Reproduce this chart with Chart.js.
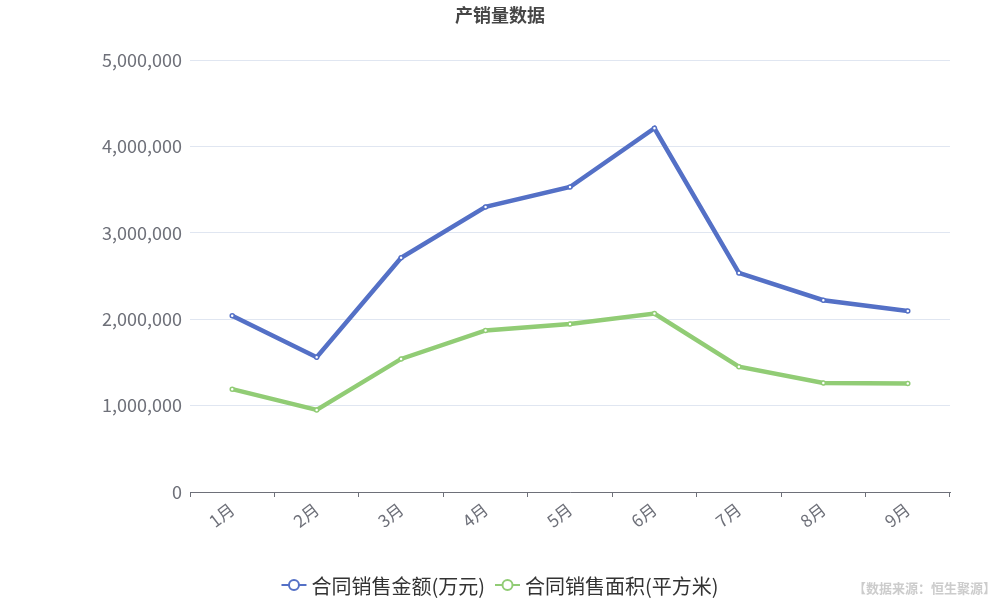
<!DOCTYPE html>
<html>
<head>
<meta charset="utf-8">
<script src="https://cdn.jsdelivr.net/npm/chart.js@4"></script>
<style>
  html, body { margin: 0; padding: 0; background: #fff; }
  #wrap { position: relative; width: 1000px; height: 600px; }
  #title {
    position: absolute; left: 0; top: 1px; width: 1000px; text-align: center;
    font: bold 18px "Noto Sans CJK SC", sans-serif; color: #464646;
  }
  #source {
    position: absolute; right: 4px; top: 578px;
    font: bold 13px "Noto Sans CJK SC", sans-serif; color: #cccccc;
  }
</style>
</head>
<body>
<div id="wrap">
  <canvas id="chart" width="1000" height="600"></canvas>
  <div id="title">产销量数据</div>
  <div id="source">【数据来源：恒生聚源】</div>
</div>
<script>
const months = ["1月", "2月", "3月", "4月", "5月", "6月", "7月", "8月", "9月"];
const salesAmount = [2040000, 1560000, 2710000, 3300000, 3530000, 4210000, 2535000, 2220000, 2095000];
const salesArea = [1190000, 950000, 1540000, 1870000, 1945000, 2065000, 1450000, 1262000, 1255000];
const seriesNames = ["合同销售金额(万元)", "合同销售面积(平方米)"];
const seriesColors = ["#5470c6", "#91cc75"];

const font = "'Noto Sans CJK SC', sans-serif";

// legend drawn ECharts-style: short line with hollow circle
const legendPlugin = {
  id: "bottomLegend",
  afterDraw(chart) {
    const ctx = chart.ctx;
    ctx.save();
    ctx.font = "20px " + font;
    ctx.textBaseline = "middle";
    const y = 585;
    const gap = 10;
    const items = seriesNames.map((n, i) => ({ n, c: seriesColors[i], w: 25 + 5 + ctx.measureText(n).width }));
    const total = items.reduce((s, it) => s + it.w, 0) + gap * (items.length - 1);
    let x = 500 - total / 2;
    items.forEach(it => {
      ctx.strokeStyle = it.c;
      ctx.lineWidth = 2;
      ctx.beginPath();
      ctx.moveTo(x, y);
      ctx.lineTo(x + 25, y);
      ctx.stroke();
      ctx.beginPath();
      ctx.arc(x + 12.5, y, 5, 0, Math.PI * 2);
      ctx.fillStyle = "#fff";
      ctx.fill();
      ctx.stroke();
      ctx.fillStyle = "#333";
      ctx.fillText(it.n, x + 30, y + 1);
      x += it.w + gap;
    });
    ctx.restore();
  }
};

new Chart(document.getElementById("chart"), {
  type: "line",
  data: {
    labels: months,
    datasets: [salesAmount, salesArea].map((d, i) => ({
      label: seriesNames[i],
      data: d,
      borderColor: seriesColors[i],
      backgroundColor: "#fff",
      borderWidth: 4.5,
      pointRadius: 2,
      pointBorderWidth: 1.5,
      pointBackgroundColor: "#fff",
      pointBorderColor: seriesColors[i],
      tension: 0
    }))
  },
  options: {
    responsive: false,
    animation: false,
    layout: { padding: { top: 60, right: 50, bottom: 68, left: 0 } },
    plugins: {
      legend: { display: false },
      title: { display: false },
      tooltip: { enabled: false }
    },
    scales: {
      x: {
        offset: true,
        grid: { offset: true, drawOnChartArea: false, drawTicks: true, tickLength: 5, color: "#6e7079" },
        border: { display: true, color: "#6e7079", width: 1 },
        ticks: { color: "#6e7079", font: { size: 17, family: font }, minRotation: 38, maxRotation: 38, padding: 2 },
        afterFit(scale) { scale.height = 40; }
      },
      y: {
        min: 0,
        max: 5000000,
        grid: { color: "#e0e6f1", drawTicks: false },
        border: { display: false },
        ticks: {
          stepSize: 1000000,
          color: "#6e7079",
          padding: 8,
          font: { size: 18, family: font },
          callback: v => v.toLocaleString("en-US")
        },
        afterFit(scale) { scale.width = 190; }
      }
    }
  },
  plugins: [legendPlugin]
});
</script>
</body>
</html>
